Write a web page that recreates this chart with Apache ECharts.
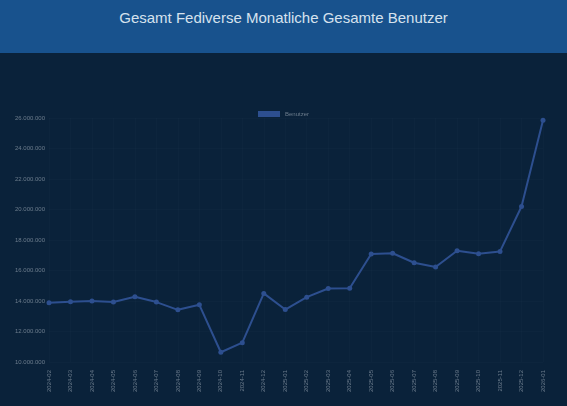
<!DOCTYPE html>
<html>
<head>
<meta charset="UTF-8">
<title>Fediverse Benutzer</title>
<script src="https://cdn.jsdelivr.net/npm/echarts@6/dist/echarts.min.js"></script>
<style>
  body { margin: 0; background: #0a223a; }
  #head { height: 53px; background: #18528d; color: #d6e2ee; font: 15px "Liberation Sans", Arial, sans-serif; text-align: center; line-height: 36px; }
  #main { width: 567px; height: 353px; }
</style>
</head>
<body>
<div id="head">Gesamt Fediverse Monatliche Gesamte Benutzer</div>
<div id="main"></div>
<script type="text/javascript">
var months = ['2024-02','2024-03','2024-04','2024-05','2024-06','2024-07','2024-08','2024-09','2024-10','2024-11','2024-12',
  '2025-01','2025-02','2025-03','2025-04','2025-05','2025-06','2025-07','2025-08','2025-09','2025-10','2025-11','2025-12','2026-01'];
var users = [13880000,13950000,14000000,13930000,14280000,13930000,13420000,13750000,10640000,11270000,14500000,
  13440000,14250000,14820000,14840000,17080000,17130000,16510000,16230000,17300000,17100000,17250000,20200000,25860000];

var myChart = echarts.init(document.getElementById('main'));
var lineColor = '#2d4f8f';
var option = {
  backgroundColor: '#0a223a',
  textStyle: { fontFamily: 'Liberation Sans' },
  legend: {
    top: 53, left: 'center',
    itemWidth: 22, itemHeight: 6,
    icon: 'rect',
    textStyle: { color: '#6c7c8c', fontSize: 6 },
    data: ['Benutzer']
  },
  grid: { left: 49, right: 24, top: 65, bottom: 44 },
  xAxis: {
    type: 'category', boundaryGap: false, data: months,
    axisLine: { show: false }, axisTick: { show: false },
    splitLine: { show: true, lineStyle: { color: 'rgba(255,255,255,0.015)' } },
    axisLabel: { rotate: 90, color: '#6c7c8c', fontSize: 6, margin: 8 }
  },
  yAxis: {
    type: 'value', min: 10000000, max: 26000000, interval: 2000000,
    axisLine: { show: false }, axisTick: { show: false },
    splitLine: { lineStyle: { color: 'rgba(255,255,255,0.015)' } },
    axisLabel: {
      color: '#6c7c8c', fontSize: 6, margin: 4,
      formatter: function (v) { return v.toString().replace(/\B(?=(\d{3})+(?!\d))/g, '.'); }
    }
  },
  series: [{
    name: 'Benutzer', type: 'line', data: users,
    symbol: 'circle', symbolSize: 5,
    lineStyle: { color: lineColor, width: 2 },
    itemStyle: { color: lineColor }
  }]
};
myChart.setOption(option);
</script>
</body>
</html>
